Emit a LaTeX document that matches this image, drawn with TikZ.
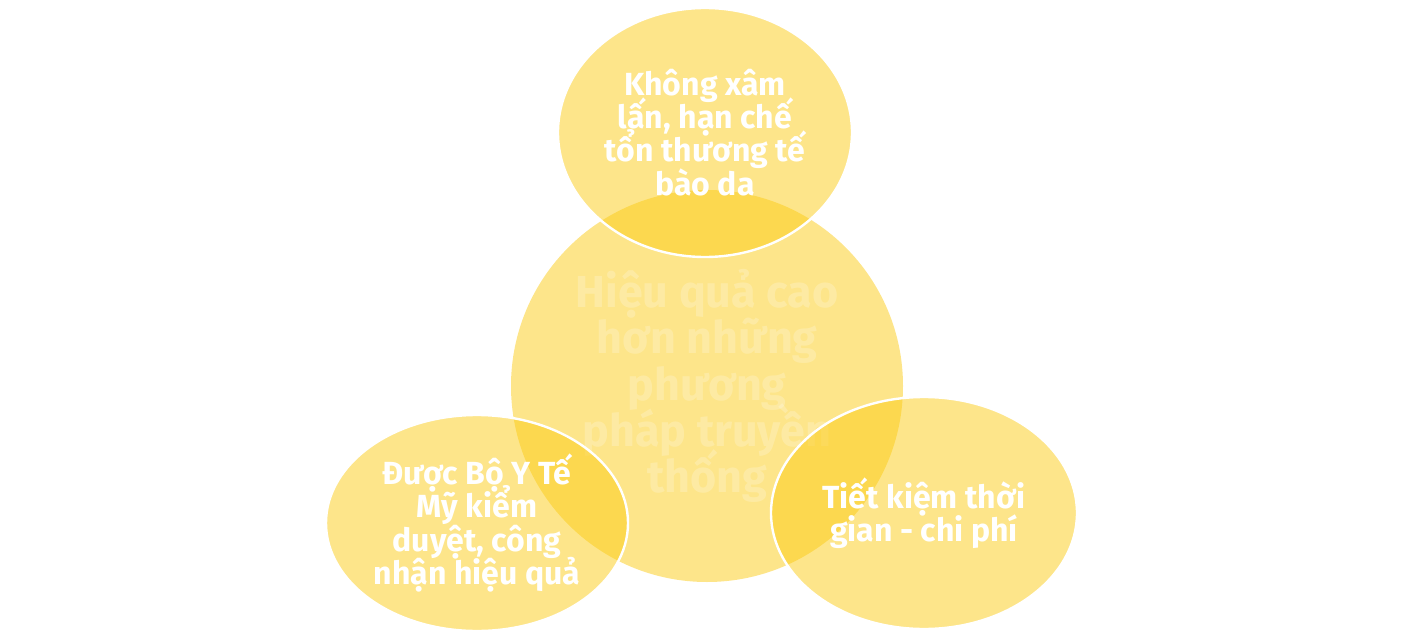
\documentclass[tikz,border=0pt]{standalone}
\usepackage{fontspec}
\setmainfont{Fira Sans}
\usepackage{tikz}
\usetikzlibrary{positioning,shapes.geometric}
\definecolor{goldcol}{RGB}{251,203,21}

\begin{document}
\begin{tikzpicture}[x=0.5pt, y=-0.5pt,
  hub/.style={circle, fill=goldcol, fill opacity=0.5, draw=none,
              minimum size=196pt, inner sep=0pt, align=center,
              font=\bfseries\fontsize{22.4}{23.2}\selectfont\setlength{\lineskiplimit}{-100pt},
              text=white, text opacity=0.22},
  leaf/.style={ellipse, fill=goldcol, fill opacity=0.5, draw=white, draw opacity=1,
               line width=1.2pt, inner sep=0pt, align=center,
               font=\bfseries\fontsize{16}{16.6}\selectfont\setlength{\lineskiplimit}{-100pt},
               text=white, text opacity=1}
]
\useasboundingbox (0,0) rectangle (1410,637);

\node[hub] (hub) at (707, 386) {Hiệu quả cao\\hơn những\\phương\\pháp truyền\\thống};

\node[leaf, minimum width=147pt, minimum height=124.5pt] (top) at (705, 132.5)
  {Không xâm\\lấn, hạn chế\\tổn thương tế\\bào da};
\node[leaf, minimum width=151pt, minimum height=108pt] (left) at (477, 523)
  {Được Bộ Y Tế\\Mỹ kiểm\\duyệt, công\\nhận hiệu quả};
\node[leaf, minimum width=153pt, minimum height=116pt] (right) at (924, 513)
  {Tiết kiệm thời\\gian - chi phí};

\end{tikzpicture}
\end{document}
